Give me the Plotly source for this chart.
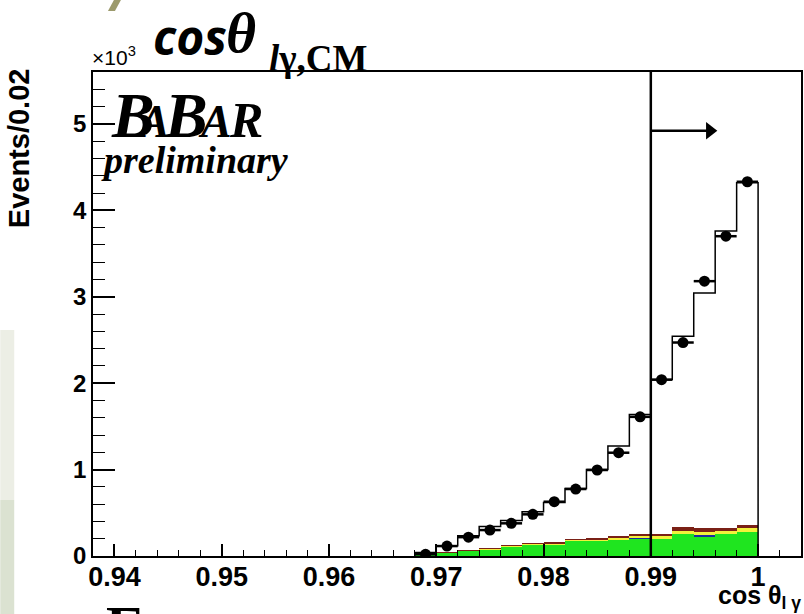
import plotly.graph_objects as go

# cos(theta_l-gamma) bins (centres), width 0.002
bin_centers = [0.969, 0.971, 0.973, 0.975, 0.977, 0.979, 0.981, 0.983,
               0.985, 0.987, 0.989, 0.991, 0.993, 0.995, 0.997, 0.999]
bin_width = 0.002

# data events per bin
data_events = [20, 115, 218, 300, 378, 482, 628, 775,
               995, 1195, 1610, 2040, 2470, 3180, 3700, 4330]

# total MC expectation per bin
mc_total = [40, 120, 235, 340, 410, 512, 620, 782,
            1002, 1272, 1638, 2043, 2543, 3044, 3761, 4320]

# stacked background components
bkg_green = [18, 38, 60, 80, 112, 135, 138, 180, 180, 195, 204, 193, 255, 225, 252, 282]
bkg_blue = [0, 0, 0, 0, 0, 0, 0, 0, 0, 0, 12, 0, 0, 20, 0, 0]
bkg_yellow = [2, 3, 3, 4, 5, 5, 5, 6, 8, 20, 19, 42, 32, 35, 38, 38]
bkg_brown = [4, 4, 5, 6, 8, 8, 9, 9, 10, 13, 19, 19, 47, 42, 38, 42]

# axis ticks
x_tick_vals = [0.94, 0.95, 0.96, 0.97, 0.98, 0.99, 1.00]
x_tick_text = ["0.94", "0.95", "0.96", "0.97", "0.98", "0.99", "1"]
y_tick_vals = [0, 1000, 2000, 3000, 4000, 5000]
y_tick_text = ["0", "1", "2", "3", "4", "5"]

cut_value = 0.99
arrow_end = 0.9955
arrow_level = 4920

W, H = 804, 614
ML, MR, MT, MB = 93, 1, 72, 58
PW, PH = W - ML - MR, H - MT - MB


def px(x):
    return (x - ML) / PW


def py(y):
    return (H - MB - y) / PH


ROOT_FONT = "Liberation Sans"
SERIF = "Liberation Serif"

fig = go.Figure()

# MC histogram outline (step)
half = bin_width / 2
step_x = [bin_centers[0] - half] + [c - half for c in bin_centers] + [bin_centers[-1] + half]
step_y = [0] + mc_total + [0]
fig.add_trace(go.Scatter(
    x=step_x, y=step_y, mode="lines", line=dict(shape="hv", color="black", width=1.5),
    hoverinfo="skip", showlegend=False))

# stacked backgrounds
for vals, col in [(bkg_green, "#1fe51f"), (bkg_blue, "#1a2aa0"),
                  (bkg_yellow, "#f2f23a"), (bkg_brown, "#7a2016")]:
    fig.add_trace(go.Bar(
        x=bin_centers, y=vals, width=bin_width, marker=dict(color=col, line=dict(width=0)),
        showlegend=False, hoverinfo="skip"))

# data points
fig.add_trace(go.Scatter(
    x=bin_centers, y=data_events, mode="markers",
    marker=dict(color="black", size=11),
    error_x=dict(type="constant", value=half, color="black", thickness=2.5, width=0),
    showlegend=False))

# arrow head marker
fig.add_trace(go.Scatter(
    x=[arrow_end], y=[arrow_level], mode="markers",
    marker=dict(symbol="triangle-right", size=15, color="black"),
    showlegend=False, hoverinfo="skip"))

shapes = [
    dict(type="line", xref="x", yref="paper", x0=cut_value, x1=cut_value, y0=0, y1=1,
         line=dict(color="black", width=2.5)),
    dict(type="line", xref="x", yref="y", x0=cut_value, x1=arrow_end, y0=arrow_level, y1=arrow_level,
         line=dict(color="black", width=2.5)),
    # side band
    dict(type="rect", xref="paper", yref="paper", x0=px(0), x1=px(14), y0=py(500), y1=py(330),
         fillcolor="#eceee5", line=dict(width=0), layer="below"),
    dict(type="rect", xref="paper", yref="paper", x0=px(0), x1=px(14), y0=py(614), y1=py(500),
         fillcolor="#dbe2d1", line=dict(width=0), layer="below"),
    # olive stroke at the top
    dict(type="path", xref="paper", yref="paper",
         path=f"M {px(108)} {py(11)} L {px(114)} {py(0)} L {px(121)} {py(0)} L {px(115)} {py(11)} Z",
         fillcolor="#9c9a6c", line=dict(width=0)),
]

annotations = [
    dict(text="×10<sup>3</sup>", x=px(90), y=py(71), xanchor="left", yanchor="bottom",
         font=dict(family=ROOT_FONT, size=21, color="black")),
    dict(text="<b><i>cos</i></b>", x=px(151), y=py(36), xanchor="left", yanchor="middle",
         font=dict(family="Open Sans", size=48, color="black")),
    dict(text="<b><i>θ</i></b>", x=px(224), y=py(32), xanchor="left", yanchor="middle",
         font=dict(family=SERIF, size=58, color="black")),
    dict(text="<b><i>l</i>γ,CM</b>", x=px(267), y=py(59), xanchor="left", yanchor="middle",
         font=dict(family=SERIF, size=37, color="black")),
    # BaBar logo
    dict(text="<b><i>B</i></b>", x=px(109), y=py(115), xanchor="left", yanchor="middle",
         font=dict(family=SERIF, size=64, color="black")),
    dict(text="<b><i>A</i></b>", x=px(134), y=py(121), xanchor="left", yanchor="middle",
         font=dict(family=SERIF, size=46, color="black")),
    dict(text="<b><i>B</i></b>", x=px(162), y=py(115), xanchor="left", yanchor="middle",
         font=dict(family=SERIF, size=64, color="black")),
    dict(text="<b><i>A</i></b>", x=px(196), y=py(121), xanchor="left", yanchor="middle",
         font=dict(family=SERIF, size=46, color="black")),
    dict(text="<b><i>R</i></b>", x=px(227), y=py(120), xanchor="left", yanchor="middle",
         font=dict(family=SERIF, size=50, color="black")),
    dict(text="<b><i>preliminary</i></b>", x=px(99), y=py(160), xanchor="left", yanchor="middle",
         font=dict(family=SERIF, size=38, color="black")),
    # axis titles
    dict(text="<b>Events/0.02</b>", x=px(19), y=py(148), xanchor="center", yanchor="middle",
         textangle=-90, font=dict(family=ROOT_FONT, size=29, color="black")),
    dict(text="<b>cos θ<sub>l γ</sub></b>", x=px(805), y=py(597), xanchor="right", yanchor="middle",
         font=dict(family=ROOT_FONT, size=25, color="black")),
    # large letter at the bottom edge
    dict(text="<b>E</b>", x=px(104), y=py(626), xanchor="left", yanchor="middle",
         font=dict(family=SERIF, size=58, color="black")),
]
for a in annotations:
    a.update(xref="paper", yref="paper", showarrow=False)

fig.update_layout(
    width=W, height=H,
    margin=dict(l=ML, r=MR, t=MT, b=MB),
    paper_bgcolor="white", plot_bgcolor="white",
    barmode="stack", bargap=0,
    shapes=shapes, annotations=annotations,
    xaxis=dict(
        range=[0.938, 1.004], tickmode="array", tickvals=x_tick_vals, ticktext=x_tick_text,
        ticks="inside", ticklen=12, tickwidth=1.5, tickcolor="black",
        minor=dict(dtick=0.002, tick0=0.94, ticks="inside", ticklen=6, tickwidth=1.2, tickcolor="black"),
        showline=True, linecolor="black", linewidth=1.5, mirror=True,
        showgrid=False, zeroline=False, ticklabelstandoff=-4,
        tickfont=dict(family=ROOT_FONT, size=27, color="black", weight="bold"),
    ),
    yaxis=dict(
        range=[0, 5600], tickmode="array", tickvals=y_tick_vals, ticktext=y_tick_text,
        ticks="inside", ticklen=22, tickwidth=1.5, tickcolor="black",
        minor=dict(dtick=200, tick0=0, ticks="inside", ticklen=12, tickwidth=1.2, tickcolor="black"),
        showline=True, linecolor="black", linewidth=1.5, mirror=True,
        showgrid=False, zeroline=False,
        tickfont=dict(family=ROOT_FONT, size=24, color="black", weight="bold"),
    ),
)

fig.write_html("out.html")
